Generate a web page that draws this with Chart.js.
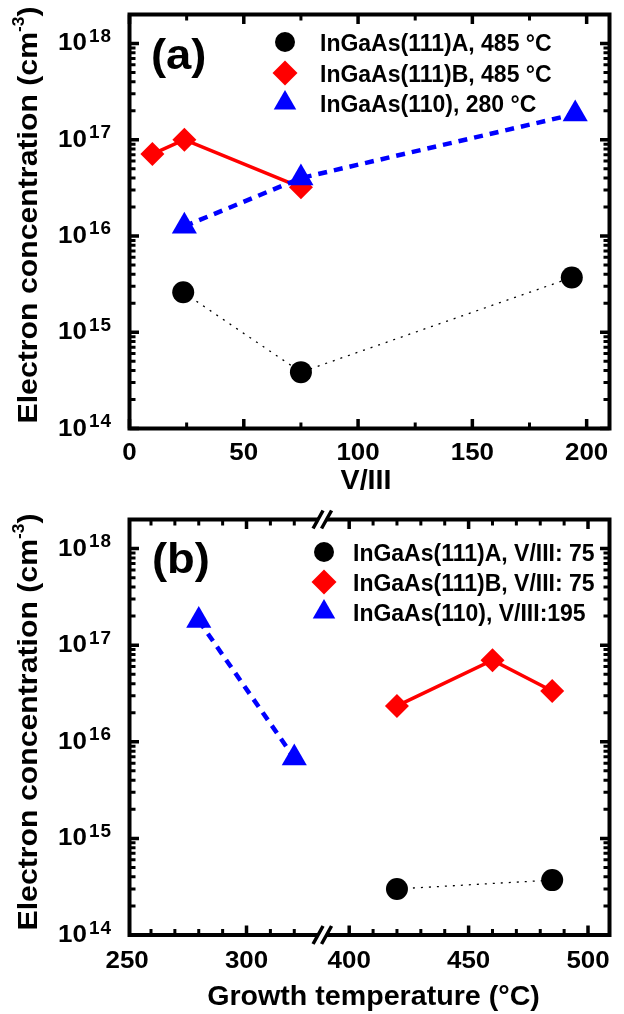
<!DOCTYPE html>
<html>
<head>
<meta charset="utf-8">
<script src="https://cdn.jsdelivr.net/npm/chart.js@4.4.1/dist/chart.umd.min.js"></script>
<style>
    html, body { margin: 0; padding: 0; background: #fff; }
    #wrap { position: relative; width: 624px; height: 1014px; }
    .panel { position: absolute; left: 0; width: 624px; }
</style>
</head>
<body>
<div id="wrap">
    <div class="panel" style="top:0;height:505px"><canvas id="chart-a" width="624" height="505"></canvas></div>
    <div class="panel" style="top:505px;height:509px"><canvas id="chart-b" width="624" height="509"></canvas></div>
</div>
<script>
// Panel (a): electron concentration against V/III ratio
const ratio111A = [23.5, 75, 193.5];
const conc111A = [2.6e15, 3.85e14, 3.7e15];
const ratio111B = [10, 24, 75];
const conc111B = [7.1e16, 1.0e17, 3.2e16];
const ratio110 = [24, 75, 195];
const conc110 = [1.26e16, 4.0e16, 1.85e17];
const legendA = ['InGaAs(111)A, 485 °C', 'InGaAs(111)B, 485 °C', 'InGaAs(110), 280 °C'];
const ratioTicks = [0, 50, 100, 150, 200];

// Panel (b): electron concentration against growth temperature
const temp111A = [420, 485];
const concT111A = [3.0e14, 3.7e14];
const temp111B = [420, 460, 485];
const concT111B = [2.35e16, 7.0e16, 3.35e16];
const temp110 = [280, 320];
const concT110 = [1.8e17, 6.8e15];
const legendB = ['InGaAs(111)A, V/III: 75', 'InGaAs(111)B, V/III: 75', 'InGaAs(110), V/III:195'];
const tempTicks = [250, 300, 400, 450, 500];

// shared log axis
const decades = [14, 15, 16, 17, 18];

const BLACK = '#000000', RED = '#ff0000', BLUE = '#0000ff';
const FAMILY = '"Liberation Sans", Arial, Helvetica, sans-serif';

// temperature axis is broken between these two values
const BREAK_FROM = 331, BREAK_TO = 388;
function toAxis(t) {
    return t > BREAK_FROM ? t - (BREAK_TO - BREAK_FROM) : t;
}

function points(xs, ys, mapX) {
    return xs.map((x, i) => ({ x: mapX ? mapX(x) : x, y: ys[i] }));
}

// bold text, slightly widened like the original figure font
function label(ctx, str, x, y, size, align, sx) {
    ctx.save();
    ctx.font = 'bold ' + size + 'px ' + FAMILY;
    ctx.translate(x, y);
    ctx.scale(sx || 1, 1);
    ctx.textAlign = align || 'left';
    ctx.textBaseline = 'alphabetic';
    ctx.fillStyle = BLACK;
    ctx.fillText(str, 0, 0);
    ctx.restore();
}

function drawPower(ctx, py, exp) {
    label(ctx, '10', 58, py + 7, 24, 'left', 1.08);
    ctx.save();
    ctx.letterSpacing = '1px';
    label(ctx, String(exp), 89, py - 1.5, 17.5, 'left', 1.08);
    ctx.restore();
}

function drawYTitle(ctx, cx, cy) {
    const main = 'Electron concentration (cm';
    ctx.save();
    ctx.translate(cx, cy);
    ctx.rotate(-Math.PI / 2);
    ctx.scale(1.08, 1);
    ctx.fillStyle = BLACK;
    ctx.textBaseline = 'alphabetic';
    ctx.font = 'bold 28px ' + FAMILY;
    const w1 = ctx.measureText(main).width;
    const w3 = ctx.measureText(')').width;
    ctx.font = 'bold 16px ' + FAMILY;
    const w2 = ctx.measureText('-3').width;
    const x0 = -(w1 + w2 + w3) / 2;
    ctx.font = 'bold 28px ' + FAMILY;
    ctx.fillText(main, x0, 0);
    ctx.fillText(')', x0 + w1 + w2, 0);
    ctx.font = 'bold 16px ' + FAMILY;
    ctx.fillText('-3', x0 + w1, -13);
    ctx.restore();
}

function drawFrame(ctx, area) {
    ctx.save();
    ctx.strokeStyle = BLACK;
    ctx.lineWidth = 4;
    ctx.strokeRect(area.left, area.top, area.right - area.left, area.bottom - area.top);
    ctx.restore();
}

// inward ticks on bottom + top
function xTick(ctx, area, px, len, w) {
    ctx.save();
    ctx.strokeStyle = BLACK;
    ctx.lineWidth = w;
    ctx.beginPath();
    ctx.moveTo(px, area.bottom);
    ctx.lineTo(px, area.bottom - len);
    ctx.moveTo(px, area.top);
    ctx.lineTo(px, area.top + len);
    ctx.stroke();
    ctx.restore();
}

// inward ticks on left + right
function yTick(ctx, area, py, len, w) {
    ctx.save();
    ctx.strokeStyle = BLACK;
    ctx.lineWidth = w;
    ctx.beginPath();
    ctx.moveTo(area.left, py);
    ctx.lineTo(area.left + len, py);
    ctx.moveTo(area.right, py);
    ctx.lineTo(area.right - len, py);
    ctx.stroke();
    ctx.restore();
}

function drawLogAxis(ctx, chart) {
    const area = chart.chartArea;
    const ys = chart.scales.y;
    decades.forEach(d => {
        const major = Math.pow(10, d);
        yTick(ctx, area, ys.getPixelForValue(major), 9.5, 3.5);
        drawPower(ctx, ys.getPixelForValue(major), d);
        for (let k = 2; k <= 9; k++) {
            const v = k * major;
            if (v < ys.max) yTick(ctx, area, ys.getPixelForValue(v), 6, 3);
        }
    });
}

function drawLegend(ctx, mx, tx, rows, texts) {
    const styles = [
        { color: BLACK, pointStyle: 'circle', radius: 10 },
        { color: RED, pointStyle: 'rectRot', radius: 12.5 },
        { color: BLUE, pointStyle: 'triangle', radius: 13 }
    ];
    styles.forEach((s, i) => {
        ctx.save();
        ctx.fillStyle = s.color;
        Chart.helpers.drawPoint(ctx, { pointStyle: s.pointStyle, radius: s.radius, rotation: 0, borderWidth: 0 }, mx, rows[i]);
        ctx.restore();
        label(ctx, texts[i], tx, rows[i] + 8.5, 23, 'left', 1);
    });
}

function drawBreak(ctx, cx, y) {
    ctx.save();
    ctx.fillStyle = '#fff';
    ctx.fillRect(cx - 4, y - 3, 8.5, 6);
    ctx.strokeStyle = BLACK;
    ctx.lineWidth = 3.5;
    ctx.beginPath();
    ctx.moveTo(cx - 9, y + 9);
    ctx.lineTo(cx + 1, y - 9);
    ctx.moveTo(cx - 0.5, y + 9);
    ctx.lineTo(cx + 9.5, y - 9);
    ctx.stroke();
    ctx.restore();
}

const panelA = {
    id: 'panelA',
    afterDraw(chart) {
        const ctx = chart.ctx;
        const area = chart.chartArea;
        const xs = chart.scales.x;
        drawFrame(ctx, area);
        ratioTicks.forEach(t => {
            xTick(ctx, area, xs.getPixelForValue(t), 9.5, 3.5);
            label(ctx, String(t), xs.getPixelForValue(t), 460, 24, 'center', 1.08);
            if (t + 25 < xs.max) xTick(ctx, area, xs.getPixelForValue(t + 25), 6, 3);
        });
        drawLogAxis(ctx, chart);
        drawYTitle(ctx, 37, 215);
        label(ctx, 'V/III', 366, 489, 27, 'center', 1.06);
        label(ctx, '(a)', 151, 69, 42, 'left', 1.08);
        drawLegend(ctx, 285, 320, [42, 73, 103], legendA);
    }
};

const panelB = {
    id: 'panelB',
    afterDraw(chart) {
        const ctx = chart.ctx;
        const area = chart.chartArea;
        const xs = chart.scales.x;
        drawFrame(ctx, area);
        tempTicks.forEach(t => {
            const px = xs.getPixelForValue(toAxis(t));
            if (toAxis(t) >= xs.min) xTick(ctx, area, px, 9.5, 3.5);
            label(ctx, String(t), px, 463, 24, 'center', 1.08);
        });
        for (let t = 260; t < 510; t += 10) {
            if (t % 50 === 0 || (t > 325 && t < 395)) continue;
            xTick(ctx, area, xs.getPixelForValue(toAxis(t)), 6, 3);
        }
        const bx = xs.getPixelForValue(BREAK_FROM) + 1.5;
        drawBreak(ctx, bx, area.top);
        drawBreak(ctx, bx, area.bottom);
        drawLogAxis(ctx, chart);
        drawYTitle(ctx, 37, 217);
        label(ctx, 'Growth temperature (°C)', 373.5, 500, 27, 'center', 1.06);
        label(ctx, '(b)', 152, 68, 42, 'left', 1.08);
        drawLegend(ctx, 324, 353, [47, 77, 107], legendB);
    }
};

function series(data, color, style, radius, width, dash, order) {
    return {
        data: data,
        borderColor: color,
        backgroundColor: color,
        pointBackgroundColor: color,
        borderWidth: width,
        borderDash: dash,
        pointStyle: style,
        pointRadius: radius,
        pointHoverRadius: radius,
        pointBorderWidth: 0,
        order: order,
        clip: false
    };
}

function baseOptions(padding, xMin, xMax) {
    return {
        responsive: false,
        animation: false,
        events: [],
        layout: { padding: padding },
        scales: {
            x: { type: 'linear', min: xMin, max: xMax, display: false },
            y: { type: 'logarithmic', min: 1e14, max: 2e18, display: false }
        },
        plugins: { legend: { display: false }, tooltip: { enabled: false } }
    };
}

new Chart(document.getElementById('chart-a'), {
    type: 'line',
    data: {
        datasets: [
            series(points(ratio110, conc110), BLUE, 'triangle', 14.5, 4.5, [9, 7], 0),
            series(points(ratio111B, conc111B), RED, 'rectRot', 12, 3.5, [], 1),
            series(points(ratio111A, conc111A), BLACK, 'circle', 11, 1.3, [2, 6], 2)
        ]
    },
    options: baseOptions({ left: 129.5, top: 11.5, right: 4, bottom: 76.5 }, 0, 210),
    plugins: [panelA]
});

new Chart(document.getElementById('chart-b'), {
    type: 'line',
    data: {
        datasets: [
            series(points(temp110, concT110, toAxis), BLUE, 'triangle', 14.5, 4.5, [9, 7], 0),
            series(points(temp111B, concT111B, toAxis), RED, 'rectRot', 12, 3.5, [], 1),
            series(points(temp111A, concT111A, toAxis), BLACK, 'circle', 11, 1.3, [2, 6], 2)
        ]
    },
    options: baseOptions({ left: 129.5, top: 13.5, right: 4, bottom: 79 }, 251, 452),
    plugins: [panelB]
});
</script>
</body>
</html>
